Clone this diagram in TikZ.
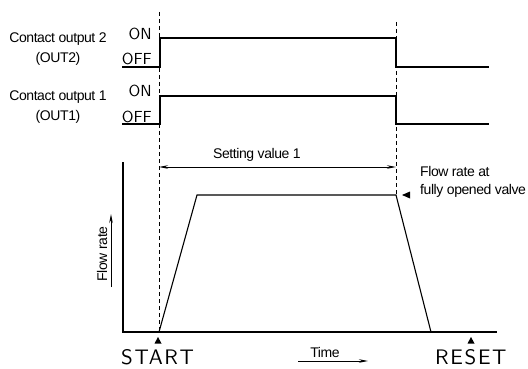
\documentclass[tikz,border=0pt]{standalone}
\usepackage{fontspec}
\setmainfont{Liberation Sans}[LetterSpace=-3]
\newfontfamily\cadfont{lmsans10-regular.otf}
\newfontfamily\cadwide{lmsans10-regular.otf}[LetterSpace=8]
\usetikzlibrary{arrows.meta}
\begin{document}
\begin{tikzpicture}[x=1pt,y=-1pt,
  wave/.style={line width=1.1pt, line join=miter},
  guide/.style={line width=0.8pt, dash pattern=on 4pt off 3pt},
  axisline/.style={line width=1.1pt},
  dimline/.style={line width=0.8pt, {Stealth[length=9pt,width=3.5pt]}-{Stealth[length=9pt,width=3.5pt]}},
  dirarrow/.style={line width=0.8pt, -{Stealth[length=9pt,width=3.5pt]}},
  lbl/.style={font=\fontsize{14}{18}\selectfont, inner sep=0pt},
  statelbl/.style={font=\cadfont\fontsize{16}{18}\selectfont, inner sep=0pt},
  eventlbl/.style={font=\cadwide\fontsize{21}{23}\selectfont, inner sep=0pt},
]
\useasboundingbox (0,0) rectangle (528,369);

% signal labels
\node[lbl] (out2a) at (58,39) {Contact output 2};
\node[lbl] (out2b) at (58,59) {(OUT2)};
\node[lbl] (out1a) at (58,97) {Contact output 1};
\node[lbl] (out1b) at (58,117) {(OUT1)};

\node[statelbl, anchor=base east] (on2)  at (152,40) {ON};
\node[statelbl, anchor=base east] (off2) at (152,65) {OFF};
\node[statelbl, anchor=base east] (on1)  at (152,97) {ON};
\node[statelbl, anchor=base east] (off1) at (152,122) {OFF};

% guide lines at start and end of the setting time
\draw[guide] (159,12) -- (159,332);
\draw[guide] (396,22) -- (396,195);

% OUT2 waveform
\coordinate (w2a) at (122,67);
\coordinate (w2b) at (160,67);
\coordinate (w2c) at (160,38);
\coordinate (w2d) at (396,38);
\coordinate (w2e) at (396,67);
\coordinate (w2f) at (489,67);
\draw[wave] (w2a) -- (w2b) -- (w2c) -- (w2d) -- (w2e) -- (w2f);

% OUT1 waveform
\coordinate (w1a) at (122,124);
\coordinate (w1b) at (160,124);
\coordinate (w1c) at (160,96);
\coordinate (w1d) at (396,96);
\coordinate (w1e) at (396,124);
\coordinate (w1f) at (489,124);
\draw[wave] (w1a) -- (w1b) -- (w1c) -- (w1d) -- (w1e) -- (w1f);

% setting time dimension
\coordinate (d1) at (159,167);
\coordinate (d2) at (396,167);
\draw[dimline] (d1) -- (d2);
\node[lbl] (setv) at (257,155) {Setting value 1};

% flow rate axes
\coordinate (ytop) at (123,162);
\coordinate (orig) at (123,332);
\coordinate (xend) at (497,332);
\draw[axisline] (ytop) -- (orig) -- (xend);

% flow rate profile
\coordinate (p0) at (159,332);
\coordinate (p1) at (197,195);
\coordinate (p2) at (396,195);
\coordinate (p3) at (431,332);
\draw[wave] (p0) -- (p1) -- (p2) -- (p3);

% full-open marker and note
\fill (402,195) -- (410,191.5) -- (410,198.5) -- cycle;
\node[lbl, anchor=base west, align=left] (note) at (420,194)
  {Flow rate at\\fully opened valve};

% axis captions
\node[lbl, rotate=90] (ylab) at (102,254) {Flow rate};
\coordinate (ya1) at (111,287);
\coordinate (ya2) at (111,214);
\draw[dirarrow] (ya1) -- (ya2);

\node[lbl] (tlab) at (325,352) {Time};
\coordinate (xa1) at (298,361);
\coordinate (xa2) at (368,361);
\draw[dirarrow] (xa1) -- (xa2);

% event markers
\fill (158,337) -- (154.5,343.5) -- (161.5,343.5) -- cycle;
\fill (471,337) -- (467.5,343.5) -- (474.5,343.5) -- cycle;
\node[eventlbl, anchor=base west] (start) at (121,364) {START};
\node[eventlbl, anchor=base west] (reset) at (435,364) {RESET};
\end{tikzpicture}
\end{document}
